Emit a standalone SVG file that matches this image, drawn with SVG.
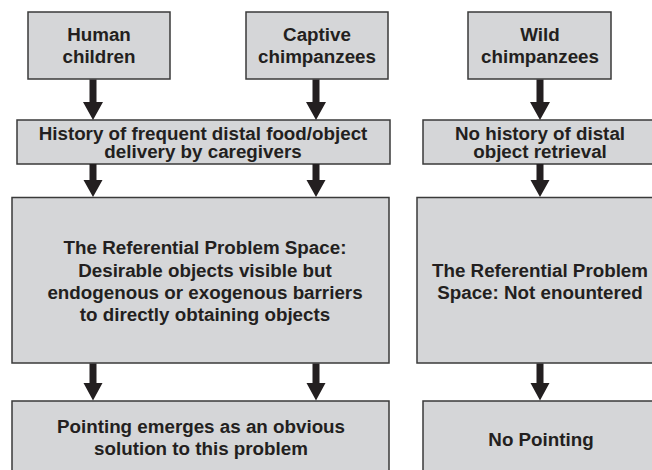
<svg xmlns="http://www.w3.org/2000/svg" width="652" height="470" viewBox="0 0 652 470">
<style>
.box{fill:#d5d6d8;stroke:#3a3a3a;stroke-width:1.5}
.t{font-family:"Liberation Sans",Arial,Helvetica,sans-serif;font-weight:bold;font-size:18.8px;fill:#231f20;text-anchor:middle}
.arr{fill:#231f20}
</style>
<rect width="652" height="470" fill="#ffffff"/>
<g id="human">
<rect class="box" x="28" y="12" width="142" height="67"/>
<text class="t" x="99" y="41">Human</text>
<text class="t" x="99" y="63">children</text>
</g>
<g id="captive">
<rect class="box" x="246" y="12" width="142" height="67"/>
<text class="t" x="317" y="41">Captive</text>
<text class="t" x="317" y="63">chimpanzees</text>
</g>
<g id="wild">
<rect class="box" x="468" y="12" width="143" height="67"/>
<text class="t" x="540" y="41">Wild</text>
<text class="t" x="540" y="63">chimpanzees</text>
</g>
<g id="history">
<rect class="box" x="17" y="120" width="373" height="44"/>
<text class="t" x="203" y="140">History of frequent distal food/object</text>
<text class="t" x="203" y="158">delivery by caregivers</text>
</g>
<g id="nohistory">
<rect class="box" x="423" y="120" width="240" height="44"/>
<text class="t" x="540" y="140">No history of distal</text>
<text class="t" x="540" y="158">object retrieval</text>
</g>
<g id="space">
<rect class="box" x="12" y="197.5" width="377" height="165.5"/>
<text class="t" x="205" y="254">The Referential Problem Space:</text>
<text class="t" x="205" y="276.5">Desirable objects visible but</text>
<text class="t" x="205" y="298.5">endogenous or exogenous barriers</text>
<text class="t" x="205" y="321">to directly obtaining objects</text>
</g>
<g id="nospace">
<rect class="box" x="417" y="197.5" width="246" height="165.5"/>
<text class="t" x="540" y="276.5">The Referential Problem</text>
<text class="t" x="540" y="298.5">Space: Not enountered</text>
</g>
<g id="pointing">
<rect class="box" x="12" y="401" width="377" height="80"/>
<text class="t" x="201" y="433">Pointing emerges as an obvious</text>
<text class="t" x="201" y="455">solution to this problem</text>
</g>
<g id="nopointing">
<rect class="box" x="423" y="401" width="240" height="80"/>
<text class="t" x="541" y="446">No Pointing</text>
</g>
<g id="connectors" class="arr">
<path d="M89.5 79.5H96.5V102H103L93 120L83 102H89.5Z"/>
<path d="M312.5 79.5H319.5V102H326L316 120L306 102H312.5Z"/>
<path d="M536.5 79.5H543.5V102H550L540 120L530 102H536.5Z"/>
<path d="M89.5 164H96.5V180H102.5L93 197L83.5 180H89.5Z"/>
<path d="M312.5 164H319.5V180H325.5L316 197L306.5 180H312.5Z"/>
<path d="M536.5 164H543.5V180H549.5L540 197L530.5 180H536.5Z"/>
<path d="M89.5 363.5H96.5V383H102.5L93 400.5L83.5 383H89.5Z"/>
<path d="M312.5 363.5H319.5V383H325.5L316 400.5L306.5 383H312.5Z"/>
<path d="M536.5 363.5H543.5V383H549.5L540 400.5L530.5 383H536.5Z"/>
</g>
</svg>
